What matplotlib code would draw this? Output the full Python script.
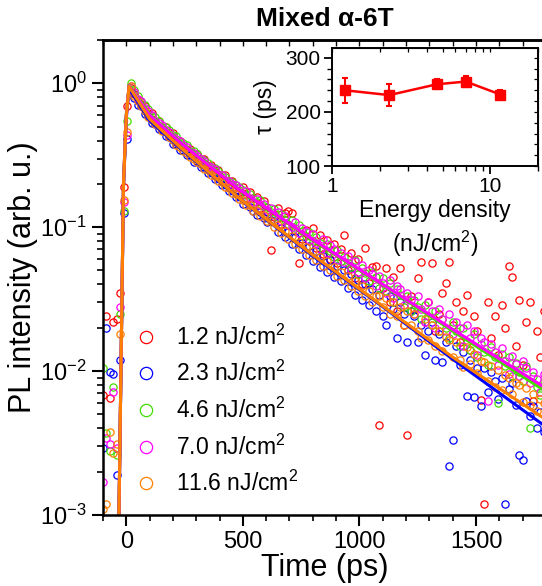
import numpy as np
import matplotlib
matplotlib.use('Agg')
from matplotlib import pyplot as plt
from matplotlib.ticker import MultipleLocator, LogLocator, NullFormatter, FuncFormatter

plt.rcParams['font.family'] = ['Liberation Sans', 'DejaVu Sans']
plt.rcParams['mathtext.fontset'] = 'custom'
plt.rcParams['mathtext.rm'] = 'Liberation Sans'
plt.rcParams['mathtext.it'] = 'Liberation Sans:italic'
plt.rcParams['mathtext.bf'] = 'Liberation Sans:bold'

# data --------------------------------------------------------------------
fluence = [1.2, 2.3, 4.6, 7.0, 11.6]          # nJ/cm^2
tau_ps = [240, 231, 251, 256, 232]
tau_err = [23, 20, 9, 10, 8]

colors = ['#ff0000', '#0000ff', '#44dd00', '#ff00ff', '#ff8000']

time_ps = np.arange(-100, 1791, 15)   # measurement time grid, 127 points

pl_red = [0.0068, 0.024, 0.0065, 0.022, 0.023, 0.035, 0.19, 0.70, 0.93,
    0.84, 0.76, 0.72, 0.70, 0.61, 0.62, 0.54, 0.55, 0.48, 0.50,
    0.44, 0.45, 0.39, 0.40, 0.36, 0.34, 0.35, 0.31, 0.32, 0.285,
    0.30, 0.26, 0.27, 0.24, 0.25, 0.215, 0.23, 0.20, 0.21, 0.18,
    0.175, 0.19, 0.16, 0.175, 0.145, 0.163, 0.135, 0.152, 0.128, 0.069,
    0.118, 0.135, 0.105, 0.125, 0.13, 0.125, 0.094, 0.056, 0.083, 0.095,
    0.080, 0.098, 0.072, 0.088, 0.065, 0.082, 0.060, 0.076, 0.056, 0.070,
    0.088, 0.050, 0.066, 0.044, 0.060, 0.040, 0.072, 0.041, 0.053, 0.054,
    0.0042, 0.038, 0.052, 0.030, 0.045, 0.026, 0.052, 0.021, 0.0036, 0.033,
    0.027, 0.044, 0.057, 0.022, 0.030, 0.056, 0.019, 0.025, 0.035, 0.041,
    0.057, 0.021, 0.030, 0.016, 0.026, 0.034, 0.014, 0.024, 0.019, 0.0063,
    0.0012, 0.030, 0.017, 0.024, 0.013, 0.029, 0.020, 0.054, 0.045, 0.015,
    0.031, 0.011, 0.022, 0.030, 0.0062, 0.019, 0.0125, 0.026]

pl_blue = [0.0029, 0.020, 0.0098, 0.0095, 0.0019, 0.012, 0.125, 0.41, 0.87,
    0.79, 0.71, 0.69, 0.61, 0.59, 0.53, 0.52, 0.48, 0.47, 0.43,
    0.42, 0.38, 0.38, 0.345, 0.345, 0.315, 0.315, 0.285, 0.29, 0.262,
    0.262, 0.238, 0.24, 0.216, 0.218, 0.196, 0.198, 0.178, 0.181, 0.162,
    0.165, 0.146, 0.152, 0.139, 0.129, 0.121, 0.128, 0.115, 0.108, 0.112,
    0.110, 0.092, 0.099, 0.085, 0.093, 0.077, 0.085, 0.071, 0.078, 0.064,
    0.074, 0.058, 0.068, 0.053, 0.063, 0.049, 0.059, 0.045, 0.054, 0.042,
    0.050, 0.038, 0.047, 0.034, 0.043, 0.031, 0.040, 0.029, 0.037, 0.026,
    0.034, 0.024, 0.021, 0.033, 0.027, 0.017, 0.030, 0.025, 0.016, 0.026,
    0.024, 0.016, 0.021, 0.013, 0.019, 0.022, 0.012, 0.018, 0.0115, 0.016,
    0.0022, 0.0033, 0.015, 0.011, 0.0135, 0.0067, 0.012, 0.0066, 0.0105, 0.0057,
    0.0105, 0.0072, 0.0098, 0.0085, 0.0064, 0.0090, 0.0012, 0.0075, 0.0082, 0.0058,
    0.0026, 0.0024, 0.0062, 0.0049, 0.0057, 0.0040, 0.0052, 0.0038]

pl_green = [0.0105, 0.0037, 0.0028, 0.0078, 0.0026, 0.025, 0.13, 0.55, 1.0,
    0.90, 0.82, 0.74, 0.71, 0.66, 0.59, 0.58, 0.55, 0.50, 0.495,
    0.47, 0.435, 0.43, 0.39, 0.385, 0.37, 0.34, 0.34, 0.32, 0.30,
    0.295, 0.28, 0.26, 0.258, 0.245, 0.232, 0.225, 0.21, 0.207, 0.196,
    0.19, 0.18, 0.168, 0.17, 0.16, 0.149, 0.155, 0.140, 0.139, 0.128,
    0.133, 0.118, 0.124, 0.112, 0.106, 0.113, 0.098, 0.104, 0.094, 0.087,
    0.092, 0.080, 0.085, 0.078, 0.070, 0.076, 0.068, 0.062, 0.069, 0.058,
    0.062, 0.056, 0.053, 0.059, 0.047, 0.052, 0.048, 0.042, 0.049, 0.045,
    0.038, 0.044, 0.036, 0.041, 0.030, 0.037, 0.034, 0.028, 0.033, 0.026,
    0.031, 0.028, 0.023, 0.029, 0.024, 0.021, 0.026, 0.019, 0.023, 0.020,
    0.017, 0.022, 0.019, 0.015, 0.020, 0.016, 0.014, 0.018, 0.0125, 0.0155,
    0.0135, 0.011, 0.0148, 0.0125, 0.0060, 0.0132, 0.0108, 0.0125, 0.0092, 0.0113,
    0.0098, 0.0085, 0.0108, 0.0040, 0.0092, 0.0078, 0.0068, 0.0086]

pl_magenta = [0.0017, 0.0034, 0.0031, 0.0072, 0.0029, 0.028, 0.15, 0.44, 0.96,
    0.87, 0.78, 0.75, 0.67, 0.64, 0.60, 0.55, 0.53, 0.51, 0.47,
    0.46, 0.42, 0.41, 0.395, 0.37, 0.36, 0.335, 0.33, 0.31, 0.30,
    0.29, 0.268, 0.262, 0.252, 0.236, 0.23, 0.214, 0.211, 0.198, 0.195,
    0.186, 0.170, 0.178, 0.160, 0.150, 0.158, 0.142, 0.145, 0.131, 0.136,
    0.121, 0.128, 0.110, 0.119, 0.104, 0.100, 0.108, 0.091, 0.099, 0.094,
    0.081, 0.089, 0.078, 0.071, 0.083, 0.066, 0.075, 0.070, 0.059, 0.066,
    0.057, 0.063, 0.051, 0.058, 0.049, 0.055, 0.044, 0.050, 0.047, 0.039,
    0.046, 0.041, 0.035, 0.043, 0.032, 0.039, 0.037, 0.029, 0.035, 0.031,
    0.025, 0.033, 0.027, 0.022, 0.030, 0.026, 0.020, 0.027, 0.023, 0.019,
    0.025, 0.018, 0.022, 0.020, 0.015, 0.021, 0.017, 0.019, 0.013, 0.017,
    0.016, 0.0062, 0.0155, 0.0135, 0.011, 0.0145, 0.0118, 0.0095, 0.0128, 0.0112,
    0.0092, 0.0118, 0.0105, 0.0083, 0.0099, 0.0088, 0.0072, 0.0095]

pl_orange = [0.0011, 0.0012, 0.0038, 0.0027, 0.0031, 0.018, 0.155, 0.46, 0.95,
    0.81, 0.75, 0.69, 0.645, 0.585, 0.56, 0.52, 0.505, 0.465, 0.455,
    0.42, 0.405, 0.375, 0.362, 0.338, 0.33, 0.308, 0.30, 0.282, 0.275,
    0.255, 0.249, 0.231, 0.226, 0.21, 0.205, 0.19, 0.186, 0.173, 0.169,
    0.157, 0.155, 0.143, 0.142, 0.130, 0.131, 0.120, 0.121, 0.110, 0.111,
    0.100, 0.103, 0.091, 0.094, 0.083, 0.087, 0.076, 0.079, 0.070, 0.073,
    0.064, 0.068, 0.059, 0.062, 0.054, 0.058, 0.050, 0.053, 0.046, 0.049,
    0.043, 0.046, 0.039, 0.042, 0.036, 0.039, 0.033, 0.036, 0.030, 0.033,
    0.033, 0.028, 0.032, 0.025, 0.030, 0.024, 0.028, 0.021, 0.026, 0.021,
    0.025, 0.019, 0.017, 0.023, 0.0165, 0.021, 0.015, 0.019, 0.0138, 0.0172,
    0.0165, 0.0126, 0.0158, 0.0120, 0.0106, 0.0147, 0.0112, 0.0132, 0.0097, 0.0117,
    0.0115, 0.0086, 0.0109, 0.0078, 0.0101, 0.0074, 0.0094, 0.0090, 0.0069, 0.0083,
    0.0080, 0.0061, 0.0076, 0.0058, 0.0069, 0.0053, 0.0064, 0.0060]

# fitted curves (vertices)
fit_t = [-34, -12, 0, 12, 100, 230, 480, 800, 1100, 1400, 1800]
fit_red = [0.0005, 0.20, 0.60, 0.95, 0.60, 0.39, 0.184, 0.081, 0.0398, 0.0193, 0.0074]
fit_blue = [0.0005, 0.19, 0.57, 0.92, 0.55, 0.355, 0.161, 0.063, 0.0280, 0.0121, 0.0041]
fit_green = [0.0005, 0.20, 0.61, 0.97, 0.61, 0.395, 0.186, 0.081, 0.0395, 0.019, 0.0072]
fit_magenta = [0.0005, 0.20, 0.60, 0.96, 0.60, 0.39, 0.185, 0.082, 0.040, 0.0195, 0.0076]
fit_orange = [0.0005, 0.20, 0.59, 0.95, 0.565, 0.36, 0.161, 0.064, 0.0283, 0.0125, 0.0046]

data = [pl_red, pl_blue, pl_green, pl_magenta, pl_orange]
fits = [fit_red, fit_blue, fit_green, fit_magenta, fit_orange]

# main figure ---------------------------------------------------------------
fig = plt.figure(figsize=(5.42, 5.86), dpi=100)
ax = fig.add_axes([0.190, 0.1212, 0.8173, 0.8106])

for f, vals, c in zip(fluence, data, colors):
    ax.plot(time_ps, vals, 'o', mfc='none', mec=c, ms=5.2, mew=0.9,
            label='%.1f nJ/cm$^2$' % f)

for i in [0, 1, 2, 3, 4]:
    ax.plot(fit_t, fits[i], '-', color=colors[i], lw=2.2)

ax.set_yscale('log')
ax.set_xlim(-100, 1800)
ax.set_ylim(1e-3, 2)
ax.xaxis.set_major_locator(MultipleLocator(500))
ax.xaxis.set_minor_locator(MultipleLocator(100))
ax.yaxis.set_major_locator(LogLocator(base=10))
ax.yaxis.set_minor_locator(LogLocator(base=10, subs=np.arange(2, 10)))
ax.yaxis.set_minor_formatter(NullFormatter())
ax.tick_params(which='major', direction='out', length=8, width=1.5, labelsize=17)
ax.tick_params(which='minor', direction='out', length=4, width=1.2)
for s in ax.spines.values():
    s.set_linewidth(1.8)

top = ax.secondary_xaxis('top')
top.xaxis.set_major_locator(MultipleLocator(500))
top.xaxis.set_minor_locator(MultipleLocator(100))
top.tick_params(which='both', direction='in', labeltop=False, length=4, width=1)
top.spines['top'].set_linewidth(1.8)

ax.set_xlabel('Time (ps)', fontsize=22, labelpad=0)
ax.set_ylabel('PL intensity (arb. u.)', fontsize=22, labelpad=2)
ax.set_title('Mixed α-6T', fontsize=19, fontweight='bold', pad=10)

ax.legend(loc='upper left', bbox_to_anchor=(0.035, 0.435), frameon=False,
          fontsize=16.5, markerscale=1.7, handlelength=1.0, handletextpad=0.8,
          labelspacing=0.5, borderpad=0.2)

# inset ----------------------------------------------------------------------
axin = fig.add_axes([0.6125, 0.7167, 0.380, 0.2014])
axin.errorbar(fluence, tau_ps, yerr=tau_err, fmt='s-', color='#ff0000',
              ms=7, lw=1.8, elinewidth=1.5, capsize=2.5, capthick=1.5)
axin.set_xscale('log')
axin.set_xlim(1, 20)
axin.set_ylim(100, 318)
axin.yaxis.set_major_locator(MultipleLocator(100))
axin.yaxis.set_minor_locator(MultipleLocator(20))
axin.xaxis.set_major_locator(LogLocator(base=10))
axin.xaxis.set_minor_locator(LogLocator(base=10, subs=np.arange(2, 10)))
axin.xaxis.set_major_formatter(FuncFormatter(lambda v, p: '%g' % v))
axin.xaxis.set_minor_formatter(NullFormatter())
axin.tick_params(which='major', direction='out', length=6, width=1.3, labelsize=15, pad=2)
axin.tick_params(which='minor', direction='out', length=3.5, width=1.0)
for s in axin.spines.values():
    s.set_linewidth(1.4)

intop = axin.secondary_xaxis('top')
intop.xaxis.set_major_locator(LogLocator(base=10))
intop.xaxis.set_minor_locator(LogLocator(base=10, subs=np.arange(2, 10)))
intop.tick_params(which='both', direction='in', labeltop=False, length=3, width=0.9)
inright = axin.secondary_yaxis('right')
inright.yaxis.set_major_locator(MultipleLocator(100))
inright.yaxis.set_minor_locator(MultipleLocator(20))
inright.tick_params(which='both', direction='in', labelright=False, length=3, width=0.9)

axin.set_ylabel('τ (ps)', fontsize=16.5, labelpad=6)
axin.set_xlabel('Energy density\n(nJ/cm$^2$)', fontsize=16.5, labelpad=2, linespacing=1.3)

fig.savefig('out.png', dpi=100)
